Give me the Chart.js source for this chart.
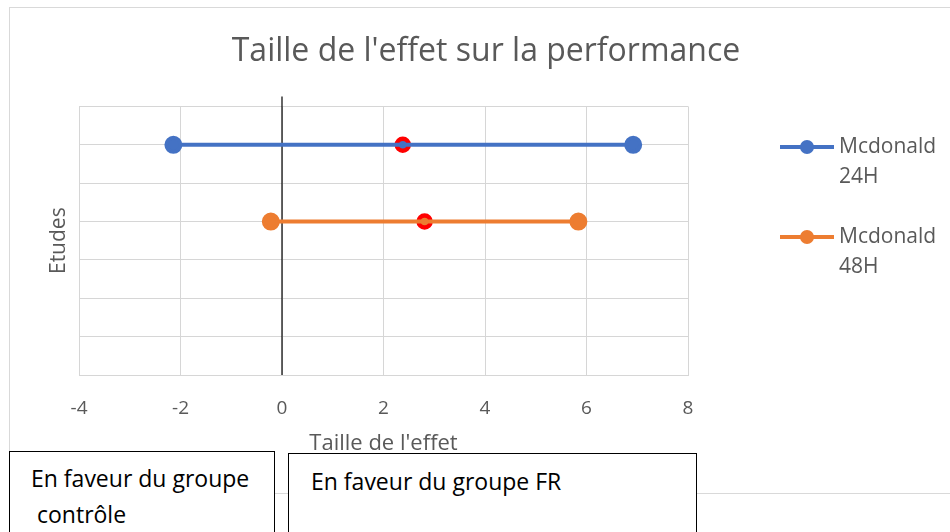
<!DOCTYPE html>
<html>
<head>
<meta charset="utf-8">
<script src="https://cdn.jsdelivr.net/npm/chart.js@4"></script>
<style>
  body { margin: 0; background: #fff; }
  .wrap { position: relative; width: 950px; height: 532px; overflow: hidden; background: #fff; }
  .frame { position: absolute; left: 9px; top: 7px; width: 960px; height: 487px; border: 1px solid #d9d9d9; box-sizing: border-box; }
  canvas { position: absolute; left: 0; top: 0; }
  .note { position: absolute; background: #fff; border: 1.5px solid #000; box-sizing: border-box;
          font-family: "Open Sans", sans-serif; font-size: 23px; color: #000; line-height: 36px; }
</style>
</head>
<body>
<div class="wrap">
  <div class="frame"></div>
  <canvas id="myChart" width="950" height="532"></canvas>
  <div class="note" style="left:9px; top:451px; width:266px; height:100px; padding:8px 0 0 21px;">En faveur du groupe<br>&nbsp;contrôle</div>
  <div class="note" style="left:288px; top:453px; width:409px; height:100px; padding:9px 0 0 22px;">En faveur du groupe FR</div>
</div>
<script>
const seriesNames = [["Mcdonald", "24H"], ["Mcdonald", "48H"]];
const seriesColors = ["#4472C4", "#ED7D31"];
const studyRow = [3, 2];
const lowerBound = [-2.14, -0.22];
const upperBound = [6.92, 5.84];
const effectSize = [2.38, 2.81];
const xTicks = [-4, -2, 0, 2, 4, 6, 8];
const yRange = [0, 3.5];
const zeroLineTop = 3.63;

const datasets = [];
seriesNames.forEach((name, i) => {
  datasets.push({
    label: name.join(" "),
    data: [{ x: lowerBound[i], y: studyRow[i] }, { x: upperBound[i], y: studyRow[i] }],
    showLine: true,
    borderColor: seriesColors[i],
    backgroundColor: seriesColors[i],
    borderWidth: 4,
    pointRadius: 7,
    pointHoverRadius: 7,
  });
});

// effect size markers (red ring)
datasets.push({
  label: "effect",
  data: effectSize.map((v, i) => ({ x: v, y: studyRow[i] })),
  showLine: false,
  pointRadius: 6,
  pointBorderWidth: 4.5,
  pointBorderColor: "#FF0000",
  pointBackgroundColor: seriesColors,
});

// vertical line at zero
datasets.push({
  label: "zero",
  data: [{ x: 0, y: yRange[0] }, { x: 0, y: zeroLineTop }],
  showLine: true,
  borderColor: "#000",
  borderWidth: 1.2,
  pointRadius: 0,
  clip: false,
});

const legendPlugin = {
  id: "sideLegend",
  afterDraw(chart) {
    const ctx = chart.ctx;
    const rows = [147, 237];
    ctx.save();
    seriesNames.forEach((name, i) => {
      const y = rows[i];
      ctx.strokeStyle = seriesColors[i];
      ctx.lineWidth = 4;
      ctx.beginPath();
      ctx.moveTo(780, y);
      ctx.lineTo(834, y);
      ctx.stroke();
      ctx.fillStyle = seriesColors[i];
      ctx.beginPath();
      ctx.arc(807, y, 7, 0, Math.PI * 2);
      ctx.fill();
      ctx.fillStyle = "#595959";
      ctx.font = '21px "Open Sans"';
      ctx.textBaseline = "middle";
      ctx.fillText(name[0], 839, y);
      ctx.fillText(name[1], 839, y + 30);
    });
    ctx.restore();
  },
};

new Chart(document.getElementById("myChart"), {
  type: "scatter",
  data: { datasets: datasets },
  plugins: [legendPlugin],
  options: {
    responsive: false,
    animation: false,
    layout: { padding: { left: 22, right: 0, top: 0, bottom: 0 } },
    scales: {
      x: {
        type: "linear",
        min: xTicks[0],
        max: xTicks[xTicks.length - 1],
        afterFit: (s) => { s.height = 157; },
        afterBuildTicks: (s) => { s.ticks = xTicks.map((v) => ({ value: v })); },
        grid: { color: "#d6d6d6", drawTicks: false },
        border: { color: "#d6d6d6" },
        ticks: { color: "#595959", font: { family: "Open Sans", size: 19 }, padding: 22 },
        title: {
          display: true,
          text: "Taille de l'effet",
          color: "#595959",
          font: { family: "Open Sans", size: 22 },
          padding: { bottom: 75 },
        },
      },
      y: {
        type: "linear",
        min: yRange[0],
        max: yRange[1],
        afterFit: (s) => { s.width = 57; },
        grid: { color: "#d6d6d6", drawTicks: false },
        border: { color: "#d6d6d6" },
        ticks: { display: false, stepSize: 0.5 },
        title: {
          display: true,
          text: "Etudes",
          color: "#595959",
          font: { family: "Open Sans", size: 21 },
          padding: { top: 24 },
        },
      },
      // empty right axis keeps room for the legend
      legendSpace: {
        type: "linear",
        position: "right",
        afterFit: (s) => { s.width = 262; },
        grid: { display: false },
        border: { display: false },
        ticks: { display: false },
      },
    },
    plugins: {
      legend: { display: false },
      tooltip: { enabled: false },
      title: {
        display: true,
        text: "Taille de l'effet sur la performance",
        color: "#595959",
        font: { family: "Open Sans", size: 32, weight: "normal" },
        padding: { top: 33, bottom: 35 },
      },
    },
  },
});
</script>
</body>
</html>
